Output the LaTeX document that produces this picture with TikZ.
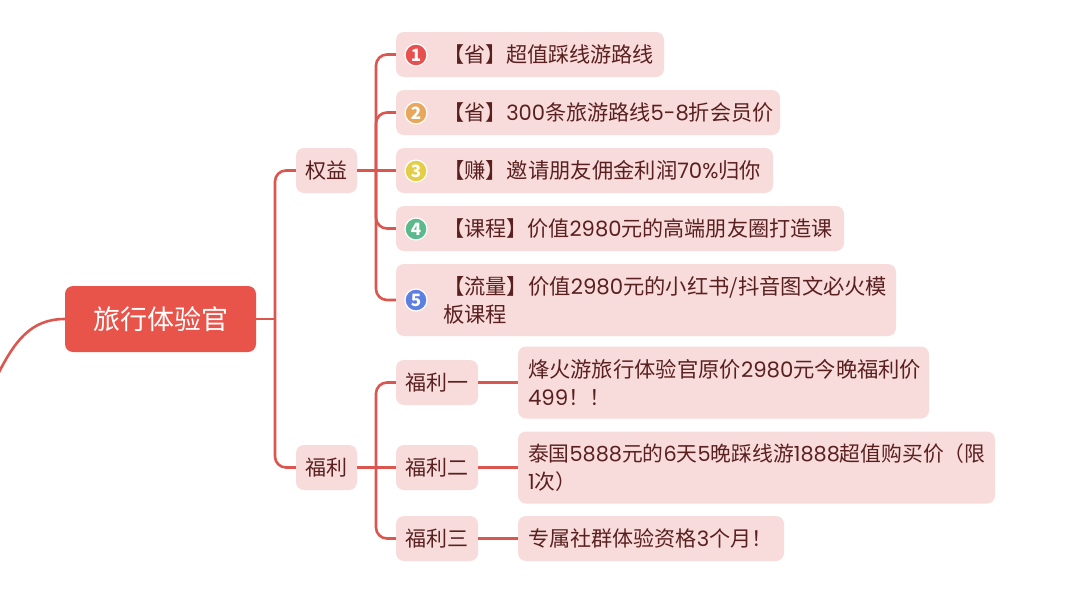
\documentclass[tikz,border=0pt]{standalone}
\usepackage{fontspec}
\setmainfont{Noto Sans CJK SC}
\newfontfamily\digitfont{Poppins}
\newcommand{\Dg}[1]{{\digitfont #1}}
\usetikzlibrary{positioning}
\definecolor{LineRed}{HTML}{DC5650}
\definecolor{RootRed}{HTML}{E8534A}
\definecolor{BoxPink}{HTML}{F8DCDB}
\definecolor{TextBrown}{HTML}{5A2020}
\definecolor{IconRed}{HTML}{E8504F}
\definecolor{IconOrange}{HTML}{E9A75C}
\definecolor{IconYellow}{HTML}{E4CE48}
\definecolor{IconGreen}{HTML}{5BB98C}
\definecolor{IconBlue}{HTML}{5C80E2}
\begin{document}
\begin{tikzpicture}
    [
        x=1pt,y=-1pt,
        Root/.style={rectangle,rounded corners=8pt,fill=RootRed,text=white,minimum width=191pt,minimum height=66pt,inner sep=0pt,font=\fontsize{27}{30}\selectfont},
        Box/.style={rectangle,rounded corners=8pt,fill=BoxPink,minimum height=45pt,inner sep=0pt},
        Tag/.style={Box,text=TextBrown,font=\fontsize{21}{24}\selectfont},
        Words/.style={anchor=west,inner sep=0pt,text=TextBrown,align=left,font=\fontsize{21.1}{28}\selectfont},
        WordsWide/.style={Words,font=\fontsize{21.3}{28}\selectfont},
        WordsTight/.style={Words,font=\fontsize{20.8}{28}\selectfont},
        Icon/.style={circle,draw=white,line width=1.2pt,minimum size=22pt,inner sep=0pt,text=white,font=\fontsize{17}{17}\selectfont\bfseries},
        Link/.style={draw=LineRed,line width=2.6pt,rounded corners=11pt}
    ]
    \useasboundingbox (0,0) rectangle (1080,606);
    \fill[white] (0,0) rectangle (1080,606);

    \node[Root] (Guide) at (160.5,319) {旅行体验官};
    \node[Tag,minimum width=61pt] (Rights) at (326.5,170.5) {权益};
    \node[Tag,minimum width=61pt] (Perks) at (326.5,467.5) {福利};

    \node[Box,minimum width=268pt] (Item1) at (530,54.5) {};
    \node[Box,minimum width=384pt] (Item2) at (588,112.5) {};
    \node[Box,minimum width=377pt] (Item3) at (584.5,170.5) {};
    \node[Box,minimum width=448pt] (Item4) at (620,228.5) {};
    \node[Box,minimum width=500pt,minimum height=72pt] (Item5) at (646,300) {};
    \node[Words] (Text1) at ([xshift=47pt]Item1.west) {【省】超值踩线游路线};
    \node[Words] (Text2) at ([xshift=47pt]Item2.west) {【省】\Dg{300}条旅游路线\Dg{5-8}折会员价};
    \node[WordsWide] (Text3) at ([xshift=47pt]Item3.west) {【赚】邀请朋友佣金利润\Dg{70\%}归你};
    \node[Words] (Text4) at ([xshift=47pt]Item4.west) {【课程】价值\Dg{2980}元的高端朋友圈打造课};
    \node[WordsWide] (Text5) at ([xshift=47pt]Item5.west) {【流量】价值\Dg{2980}元的小红书/抖音图文必火模\\板课程};
    \node[Icon,fill=IconRed] (Icon1) at (416,55) {1};
    \node[Icon,fill=IconOrange] (Icon2) at (416,113) {2};
    \node[Icon,fill=IconYellow] (Icon3) at (416,171) {3};
    \node[Icon,fill=IconGreen] (Icon4) at (416,229) {4};
    \node[Icon,fill=IconBlue] (Icon5) at (416,300) {5};

    \node[Tag,minimum width=82pt] (Perk1) at (437,382.5) {福利一};
    \node[Tag,minimum width=82pt] (Perk2) at (437,467.5) {福利二};
    \node[Tag,minimum width=82pt] (Perk3) at (437,538.5) {福利三};
    \node[Box,minimum width=411pt,minimum height=72pt] (Detail1) at (723.5,382.5) {};
    \node[Box,minimum width=477pt,minimum height=72pt] (Detail2) at (756.5,467.5) {};
    \node[Box,minimum width=266pt] (Detail3) at (651,538.5) {};
    \node[WordsWide] (Note1) at ([xshift=10pt]Detail1.west) {烽火游旅行体验官原价\Dg{2980}元今晚福利价\\\Dg{499}！！};
    \node[WordsTight] (Note2) at ([xshift=10pt]Detail2.west) {泰国\Dg{5888}元的\Dg{6}天\Dg{5}晚踩线游\Dg{1888}超值购买价（限\\\Dg{1}次）};
    \node[Words] (Note3) at ([xshift=10pt]Detail3.west) {专属社群体验资格\Dg{3}个月！};

    \coordinate (Offpage) at (-4,378);
    \coordinate (GuideJoint) at (275,319);
    \coordinate (RightsJoint) at (376,170.5);
    \coordinate (PerksJoint) at (376,467.5);

    \draw[draw=LineRed,line width=2.6pt] (Guide.west) .. controls (30,319) and (14,342) .. (Offpage);

    \draw[Link] (Guide.east) -- (GuideJoint);
    \draw[Link] (GuideJoint) |- (Rights.west);
    \draw[Link] (GuideJoint) |- (Perks.west);

    \draw[Link] (Rights.east) -- (Item3.west);
    \draw[Link] (RightsJoint) |- (Item1.west);
    \draw[Link] (RightsJoint) |- (Item2.west);
    \draw[Link] (RightsJoint) |- (Item4.west);
    \draw[Link] (RightsJoint) |- (Item5.west);

    \draw[Link] (Perks.east) -- (Perk2.west);
    \draw[Link] (PerksJoint) |- (Perk1.west);
    \draw[Link] (PerksJoint) |- (Perk3.west);
    \draw[Link] (Perk1.east) -- (Detail1.west);
    \draw[Link] (Perk2.east) -- (Detail2.west);
    \draw[Link] (Perk3.east) -- (Detail3.west);
\end{tikzpicture}
\end{document}
